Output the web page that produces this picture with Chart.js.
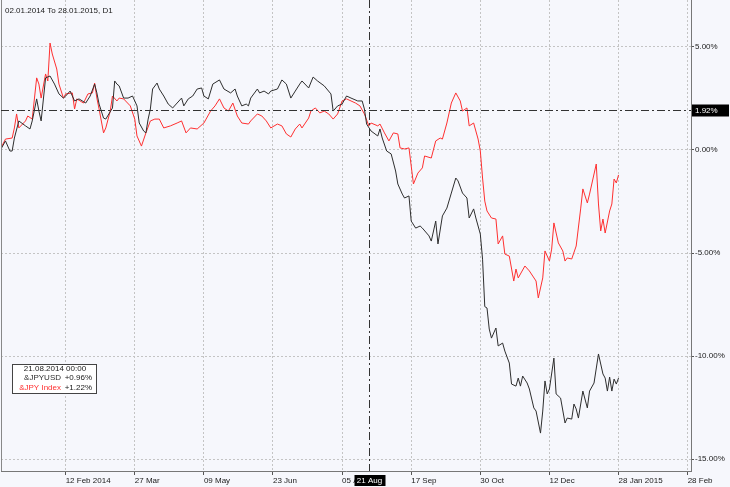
<!DOCTYPE html>
<html>
<head>
<meta charset="utf-8">
<script src="https://cdn.jsdelivr.net/npm/chart.js@4"></script>
<style>
  html, body { margin: 0; padding: 0; background: #f6f7fc; }
  canvas { display: block; }
</style>
</head>
<body>
<canvas id="chart" width="730" height="487"></canvas>
<script>
// bar index (trading days from 02.01.2014) and % change
const jpyusdBars = [0, 2, 4, 5, 6, 8, 11, 13, 14, 16, 17, 18, 20, 22, 24, 26, 28, 29, 31, 33, 35, 38, 40, 42, 43, 44, 46, 47, 50, 51, 52, 53, 55, 57, 59, 61, 62, 64, 65, 66, 67, 68, 70, 71, 73, 75, 77, 79, 81, 82, 84, 86, 88, 90, 91, 93, 95, 98, 100, 103, 105, 106, 108, 110, 111, 112, 115, 116, 118, 120, 121, 124, 126, 128, 130, 132, 134, 135, 138, 140, 142, 145, 148, 149, 151, 153, 155, 157, 160, 162, 163, 164, 166, 169, 170, 171, 173, 175, 177, 178, 180, 181, 183, 184, 186, 188, 189, 192, 193, 195, 196, 198, 200, 202, 204, 205, 207, 209, 210, 212, 213, 215, 216, 217, 218, 219, 220, 222, 223, 225, 226, 228, 229, 231, 232, 233, 234, 236, 237, 239, 240, 242, 243, 244, 245, 246, 248, 249, 251, 253, 254, 256, 257, 258, 259, 261, 263, 264, 266, 268, 270, 271, 272, 273, 274, 275, 276, 277];
const jpyusdValues = [0.05, 0.44, -0.05, -0.05, 0.58, 1.41, 1.17, 1.02, 1.41, 2.48, 1.89, 1.41, 3.50, 3.59, 3.20, 2.72, 2.52, 2.62, 2.86, 2.38, 2.48, 2.28, 2.62, 3.20, 2.77, 2.23, 1.55, 1.50, 2.04, 3.35, 3.20, 3.11, 2.52, 2.52, 2.62, 2.14, 1.31, 0.92, 0.83, 1.50, 1.99, 2.96, 3.25, 2.96, 2.62, 2.23, 2.04, 2.28, 2.52, 2.14, 2.48, 2.62, 2.96, 3.01, 2.62, 2.48, 3.20, 3.40, 2.96, 2.77, 2.96, 2.62, 2.14, 2.23, 2.14, 2.52, 2.96, 2.77, 2.86, 2.72, 2.86, 2.96, 3.40, 3.20, 2.52, 2.86, 3.20, 3.35, 3.01, 3.54, 3.35, 3.11, 2.72, 1.89, 2.14, 2.23, 2.62, 2.52, 2.38, 2.38, 1.99, 1.26, 0.92, 0.68, 1.02, 0.58, -0.05, -0.19, -1.02, -1.65, -2.14, -2.33, -2.23, -3.45, -3.79, -3.69, -3.79, -4.17, -4.42, -3.45, -4.56, -3.20, -2.82, -2.09, -1.36, -1.50, -2.09, -2.33, -3.30, -2.86, -3.30, -4.08, -5.30, -7.60, -7.67, -8.69, -9.13, -8.64, -9.51, -9.37, -9.76, -10.34, -11.36, -11.46, -11.07, -11.46, -10.97, -11.31, -11.60, -12.52, -12.67, -13.74, -12.67, -11.21, -11.84, -11.60, -10.10, -11.84, -12.04, -13.25, -13.01, -13.06, -12.33, -12.57, -13.01, -11.70, -12.52, -11.70, -11.31, -9.90, -10.87, -11.07, -11.70, -11.02, -11.70, -11.12, -11.36, -11.07];

const jpyIndexBars = [0, 2, 5, 6, 7, 8, 11, 12, 14, 16, 17, 18, 20, 21, 22, 23, 25, 26, 28, 29, 32, 33, 34, 37, 39, 41, 42, 43, 44, 46, 47, 49, 50, 52, 53, 55, 58, 60, 61, 63, 65, 67, 69, 71, 73, 76, 79, 81, 83, 85, 88, 91, 92, 94, 96, 98, 100, 102, 104, 106, 108, 111, 112, 115, 117, 119, 121, 124, 126, 128, 130, 132, 134, 135, 138, 139, 141, 143, 145, 147, 149, 151, 153, 155, 157, 159, 161, 163, 165, 166, 169, 170, 172, 174, 176, 178, 179, 181, 183, 185, 187, 189, 190, 193, 195, 197, 198, 200, 202, 204, 206, 207, 209, 210, 212, 214, 215, 216, 217, 218, 220, 222, 223, 225, 226, 228, 230, 231, 232, 235, 237, 240, 241, 243, 244, 246, 247, 248, 250, 252, 253, 254, 256, 258, 260, 261, 263, 264, 267, 268, 269, 270, 271, 273, 274, 275, 276, 277];
const jpyIndexValues = [0.10, 0.53, 0.58, 1.07, 1.75, 1.07, 1.41, 1.65, 1.50, 3.50, 3.20, 2.52, 3.69, 3.35, 5.19, 4.66, 3.93, 3.20, 2.52, 2.72, 2.77, 1.99, 2.48, 2.28, 2.72, 2.77, 3.25, 2.52, 1.99, 0.83, 1.07, 1.89, 2.62, 2.38, 2.52, 2.48, 2.14, 1.50, 0.68, 0.19, 0.83, 1.41, 1.50, 1.50, 1.07, 1.17, 1.31, 1.41, 0.83, 1.07, 1.02, 1.31, 1.50, 1.89, 2.14, 2.48, 2.04, 1.89, 2.28, 1.65, 1.31, 1.26, 1.41, 1.75, 1.65, 1.41, 1.07, 1.26, 1.17, 0.78, 0.63, 1.02, 1.26, 1.07, 1.55, 1.89, 2.04, 1.80, 1.89, 1.75, 1.50, 1.75, 2.38, 2.48, 2.38, 2.28, 2.14, 1.75, 1.17, 1.31, 1.17, 1.26, 0.83, 0.44, 0.83, 0.78, 0.10, 0.05, 0.10, -1.65, -1.12, -0.87, -0.29, -0.39, 0.44, 0.58, 0.53, 1.31, 2.28, 2.77, 2.38, 1.89, 2.04, 1.17, 1.31, 0.53, -0.05, -1.36, -2.48, -2.96, -3.30, -3.35, -4.56, -4.17, -5.05, -5.15, -6.36, -5.78, -6.21, -5.63, -5.87, -6.36, -7.18, -6.21, -4.90, -5.39, -4.81, -3.54, -4.51, -4.90, -5.39, -5.24, -5.29, -4.66, -2.86, -1.89, -2.57, -2.14, -0.68, -2.62, -3.93, -3.35, -4.03, -2.96, -2.62, -1.41, -1.60, -1.21];

const tickBars = [29, 60, 91, 122, 153, 184, 215, 246, 277, 308];
const tickLabels = ['12 Feb 2014', '27 Mar', '09 May', '23 Jun', '05 Aug', '17 Sep', '30 Oct', '12 Dec', '28 Jan 2015', '28 Feb'];
const yTicks = [-15, -10, -5, 0, 5];

const titleText = '02.01.2014 To 28.01.2015, D1';
const crossBar = 165;
const crossLabel = '21 Aug';
const crossLevel = 1.92;
const infoDate = '21.08.2014 00:00';
const infoNames = ['&JPYUSD', '&JPY Index'];
const infoValues = ['+0.96%', '+1.22%'];

const FONT = '8px "Liberation Sans", Arial, sans-serif';
const BLACK = '#2e2e2e';
const RED = '#ff3030';

const background = {
  id: 'background',
  beforeDraw(chart) {
    const c = chart.ctx;
    c.save();
    c.fillStyle = '#f6f7fc';
    c.fillRect(0, 0, chart.width, chart.height);
    c.restore();
  }
};

const overlay = {
  id: 'overlay',
  afterDraw(chart) {
    const c = chart.ctx;
    const a = chart.chartArea;
    const xs = chart.scales.x, ys = chart.scales.y;
    c.save();
    c.font = FONT;

    // left frame line
    c.strokeStyle = '#888';
    c.lineWidth = 1;
    c.beginPath();
    c.moveTo(a.left + 0.5, a.top);
    c.lineTo(a.left + 0.5, a.bottom);
    c.stroke();

    // title
    c.fillStyle = '#202020';
    c.textBaseline = 'middle';
    c.textAlign = 'left';
    c.fillText(titleText, 5, 11);

    // crosshair
    const cx = Math.round(xs.getPixelForValue(crossBar)) + 0.5;
    const cy = Math.round(ys.getPixelForValue(crossLevel)) + 0.5;
    c.strokeStyle = '#333';
    c.setLineDash([8, 3, 2, 3]);
    c.beginPath();
    c.moveTo(cx, a.top);
    c.lineTo(cx, a.bottom);
    c.moveTo(a.left, cy);
    c.lineTo(a.right, cy);
    c.stroke();
    c.setLineDash([]);

    c.fillStyle = '#000';
    c.fillRect(cx - 15, a.bottom + 4, 31, 11);
    c.fillRect(a.right + 1, cy - 6, 37, 12);
    c.fillStyle = '#fff';
    c.textAlign = 'center';
    c.fillText(crossLabel, cx, a.bottom + 10);
    c.textAlign = 'left';
    c.fillText(crossLevel.toFixed(2) + '%', a.right + 4, cy + 0.5);

    // info box
    c.fillStyle = '#fff';
    c.fillRect(12, 364, 84, 29);
    c.strokeStyle = '#444';
    c.strokeRect(12.5, 364.5, 84, 29);
    c.fillStyle = '#202020';
    c.textAlign = 'center';
    c.fillText(infoDate, 55, 369);
    c.textAlign = 'right';
    c.fillStyle = BLACK;
    c.fillText(infoNames[0], 61, 378);
    c.fillStyle = RED;
    c.fillText(infoNames[1], 61, 388);
    c.fillStyle = '#202020';
    c.fillText(infoValues[0], 92, 378);
    c.fillText(infoValues[1], 92, 388);
    c.restore();
  }
};

const noPadding = (s) => {
  s.paddingTop = 0;
  s.paddingBottom = 0;
  s.paddingLeft = 0;
  s.paddingRight = 0;
};

const ctx = document.getElementById('chart').getContext('2d');

new Chart(ctx, {
  type: 'line',
  data: {
    datasets: [
      {
        label: infoNames[0],
        data: jpyusdBars.map((b, i) => ({ x: b, y: jpyusdValues[i] })),
        borderColor: BLACK,
        borderWidth: 1,
        pointRadius: 0,
        tension: 0,
      },
      {
        label: infoNames[1],
        data: jpyIndexBars.map((b, i) => ({ x: b, y: jpyIndexValues[i] })),
        borderColor: RED,
        borderWidth: 1,
        pointRadius: 0,
        tension: 0,
      },
    ],
  },
  options: {
    responsive: false,
    animation: false,
    devicePixelRatio: 1,
    layout: { padding: { left: 1, top: 0, right: 0, bottom: 0 } },
    plugins: { legend: { display: false }, tooltip: { enabled: false } },
    scales: {
      x: {
        type: 'linear',
        min: 0,
        max: 309.5,
        afterBuildTicks: (s) => { s.ticks = tickBars.map((v) => ({ value: v })); },
        afterFit: (s) => { s.height = 16; noPadding(s); },
        ticks: {
          callback: (v, i) => tickLabels[i],
          align: 'start',
          autoSkip: false,
          maxRotation: 0,
          padding: 1,
          color: '#202020',
          font: { family: '"Liberation Sans", Arial, sans-serif', size: 8 },
        },
        grid: { color: '#c4c4c4', tickColor: '#555', tickLength: 4 },
        border: { color: '#777', dash: [2, 2] },
      },
      y: {
        position: 'right',
        min: -15.58,
        max: 7.28,
        afterBuildTicks: (s) => { s.ticks = yTicks.map((v) => ({ value: v })); },
        afterFit: (s) => { s.width = 39; noPadding(s); },
        ticks: {
          callback: (v) => v.toFixed(2) + '%',
          padding: 1,
          color: '#202020',
          font: { family: '"Liberation Sans", Arial, sans-serif', size: 8 },
        },
        grid: { color: '#c4c4c4', tickColor: '#555', tickLength: 3 },
        border: { color: '#777', dash: [2, 2] },
      },
    },
  },
  plugins: [background, overlay],
});
</script>
</body>
</html>
